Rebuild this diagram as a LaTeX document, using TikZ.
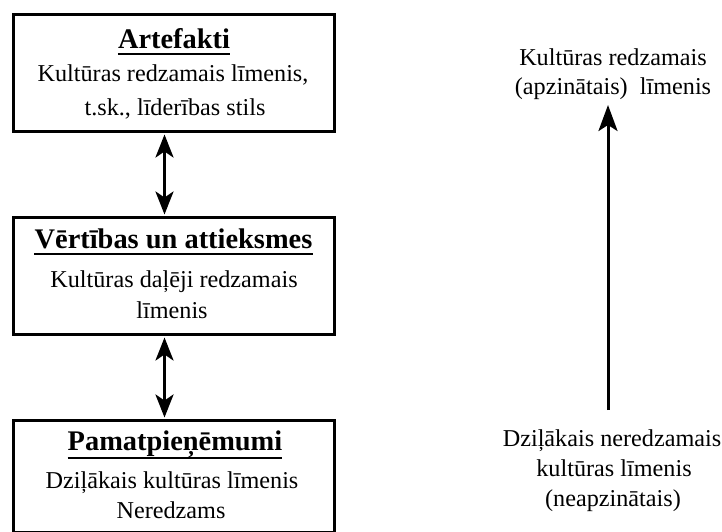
\documentclass[tikz,border=0pt]{standalone}
\usepackage{fontspec}
\setmainfont{Liberation Serif}
\usetikzlibrary{arrows.meta}
\begin{document}
\begin{tikzpicture}[x=1pt,y=-1pt,
  levelbox/.style={draw=black,line width=3pt,minimum width=321pt,anchor=north west,inner sep=0pt},
  title/.style={anchor=base,inner sep=0pt,font=\fontsize{28.4}{30}\selectfont\bfseries},
  body/.style={anchor=base,inner sep=0pt,font=\fontsize{24.2}{30}\selectfont},
  uline/.style={line width=2.2pt},
  link/.style={line width=3pt,{Stealth[length=23pt,width=18pt,inset=6pt]}-{Stealth[length=23pt,width=18pt,inset=6pt]}},
  rise/.style={line width=3pt,-{Stealth[length=26pt,width=19pt,inset=6pt]}}]
\useasboundingbox (0,0) rectangle (722,532);

% three levels of culture
\node[levelbox,minimum height=117pt] (b1) at (12,13) {};
\node[levelbox,minimum height=117pt] (b2) at (12,216) {};
\node[levelbox,minimum height=112pt] (b3) at (12,419) {};

% level 1
\node[title] (t1) at (174,49) {Artefakti};
\draw[uline] ([yshift=-5pt]t1.base west) -- ([yshift=-5pt]t1.base east);
\node[body] (l1a) at (173,82) {Kultūras redzamais līmenis,};
\node[body] (l1b) at (175,115) {t.sk., līderības stils};

% level 2
\node[title] (t2) at (173.5,248) {Vērtības un attieksmes};
\draw[uline] ([yshift=-6pt]t2.base west) -- ([yshift=-6pt]t2.base east);
\node[body] (l2a) at (174,287) {Kultūras daļēji redzamais};
\node[body] (l2b) at (172,318) {līmenis};

% level 3
\node[title] (t3) at (175,450) {Pamatpieņēmumi};
\draw[uline] ([yshift=-8pt]t3.base west) -- ([yshift=-8pt]t3.base east);
\node[body] (l3a) at (172,488) {Dziļākais kultūras līmenis};
\node[body] (l3b) at (171,518) {Neredzams};

% two-way links between levels
\draw[link,shorten <=1.5pt,shorten >=1.5pt] ([xshift=-9.5pt]b1.south) -- ([xshift=-9.5pt]b2.north);
\draw[link,shorten <=1.5pt,shorten >=1.5pt] ([xshift=-9.5pt]b2.south) -- ([xshift=-9.5pt]b3.north);

% right-hand scale
\node[body] (r1) at (613,66) {Kultūras redzamais};
\node[body] (r2) at (613,95) {(apzinātais)\ \ līmenis};
\node[body] (r3) at (612,446) {Dziļākais neredzamais};
\node[body] (r4) at (614,476) {kultūras līmenis};
\node[body] (r5) at (613,506) {(neapzinātais)};
\coordinate (low) at (608,410);
\coordinate (high) at (608,105);
\draw[rise] (low) -- (high);
\end{tikzpicture}
\end{document}
